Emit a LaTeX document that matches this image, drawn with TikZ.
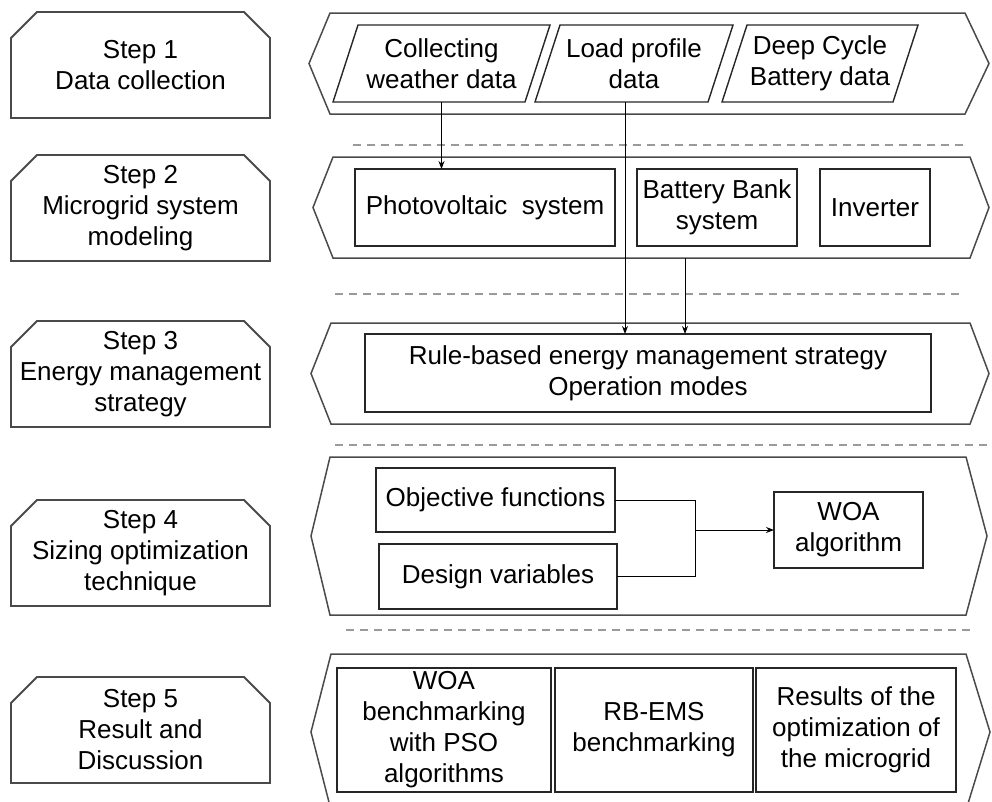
\documentclass[tikz,border=0pt]{standalone}
\usepackage{fontspec}
\setmainfont{Liberation Sans}
\usetikzlibrary{arrows.meta}

\newcommand\labelfont{\fontsize{26pt}{31pt}\selectfont}

% step box with its two upper corners cut off
\newcommand\chamferbox[1]{%
  \draw[stepline] (#1.south west) -- ([yshift=-26pt]#1.north west)
    -- ([xshift=26pt]#1.north west) -- ([xshift=-26pt]#1.north east)
    -- ([yshift=-26pt]#1.north east) -- (#1.south east) -- cycle;}

% slanted data box drawn round a rectangular text node
\newcommand\slantbox[1]{%
  \draw[boxline] ([xshift=-12.5pt]#1.south west) -- ([xshift=12.5pt]#1.north west)
    -- ([xshift=12.5pt]#1.north east) -- ([xshift=-12.5pt]#1.south east) -- cycle;}

% stage band pointed at both ends: left tip, left x, right x, right tip, top, bottom
\newcommand\band[6]{%
  \draw[bandline] (#2,#5) -- (#3,#5) -- (#4,{(#5+#6)/2}) -- (#3,#6)
    -- (#2,#6) -- (#1,{(#5+#6)/2}) -- cycle;}

\definecolor{edgegray}{HTML}{4A4A4A}
\definecolor{dashgray}{HTML}{9A9A9A}

\tikzset{
  every node/.style={font=\labelfont, align=center, inner sep=0pt, outer sep=0pt},
  stepnode/.style={minimum width=259pt, minimum height=106pt},
  stepline/.style={draw=edgegray, line width=1.8pt, line join=miter},
  bandline/.style={draw=edgegray, line width=1.5pt, line join=miter},
  boxline/.style={draw=black!85, line width=1.4pt},
  databox/.style={minimum height=77pt},
  plainbox/.style={draw=black!85, line width=1.4pt},
  sepline/.style={draw=dashgray, line width=1.4pt, dash pattern=on 8pt off 6pt},
  flow/.style={draw=black, line width=0.9pt},
  arrow/.style={flow, -{Stealth[length=8pt,width=6pt]}},
}

\begin{document}
\begin{tikzpicture}[x=1pt, y=-1pt]
\useasboundingbox (0,0) rectangle (992,801);

% ---- steps on the left ----
\node[stepnode] (s1) at (140.5,65) {Step 1\\Data collection};
\node[stepnode] (s2) at (140.5,208) {Step 2\\Microgrid system\\modeling};
\node[stepnode] (s3) at (140.5,374) {Step 3\\Energy management\\strategy};
\node[stepnode] (s4) at (140.5,553) {Step 4\\Sizing optimization\\technique};
\node[stepnode] (s5) at (140.5,730) {Step 5\\Result and\\Discussion};
\foreach \s in {s1,s2,s3,s4,s5} {\chamferbox{\s}}

% ---- stage bands ----
\band{309}{330}{965}{989}{13}{114}
\band{313}{333}{970}{989}{157}{258}
\band{311}{331}{970}{989}{323}{424}
\band{311}{330}{966}{987}{457}{615}
\band{311}{331}{966}{990}{654}{810}

% ---- separators ----
\draw[sepline] (353,145) -- (963,145);
\draw[sepline] (335,294) -- (964,294);
\draw[sepline] (335,445) -- (990,445);
\draw[sepline] (346,630) -- (975,630);

% ---- step 1: data ----
\node[databox, minimum width=192pt] (p1) at (441.5,63.5) {Collecting\\weather data};
\node[databox, minimum width=173pt] (p2) at (634,63.5) {Load profile\\data};
\node[databox, minimum width=171pt] (p3) at (820,63.5) {Deep Cycle\\Battery data};
\foreach \p in {p1,p2,p3} {\slantbox{\p}}

% ---- step 2: system models ----
\node[plainbox, minimum width=260pt, minimum height=77pt] (pv) at (485,207.5) {Photovoltaic\ \ system};
\node[plainbox, minimum width=160pt, minimum height=77pt] (bat) at (717,207.5) {Battery Bank\\system};
\node[plainbox, minimum width=110pt, minimum height=77pt] (inv) at (875,207.5) {Inverter};

% ---- step 3: energy management ----
\node[plainbox, minimum width=566pt, minimum height=78pt] (rule) at (648,373) {Rule-based energy management strategy\\Operation modes};

% ---- step 4: sizing ----
\node[plainbox, minimum width=239pt, minimum height=64pt] (obj) at (495.5,500) {Objective functions};
\node[plainbox, minimum width=238pt, minimum height=65pt] (des) at (498,576.5) {Design variables};
\node[plainbox, minimum width=149pt, minimum height=76pt] (woa) at (848.5,530) {WOA\\algorithm};

% ---- step 5: results ----
\node[plainbox, minimum width=214pt, minimum height=124pt] (r1) at (444,730) {WOA\\benchmarking\\with PSO\\algorithms};
\node[plainbox, minimum width=198pt, minimum height=124pt] (r2) at (654,730) {RB-EMS\\benchmarking};
\node[plainbox, minimum width=200pt, minimum height=124pt] (r3) at (856,730) {Results of the\\optimization of\\the microgrid};

% ---- connectors ----
\coordinate (loadx) at (625,0);
\coordinate (bankout) at (685,258);
\coordinate (merge) at (695,530);
\draw[arrow] (p1.south) -- (pv.north -| p1.south);
\draw[arrow] (p2.south -| loadx) -- (rule.north -| loadx);
\draw[arrow] (bankout) -- (rule.north -| bankout);
\draw[flow] (obj.east) -| (merge) |- (des.east);
\draw[arrow] (merge) -- (woa.west);
\end{tikzpicture}
\end{document}
